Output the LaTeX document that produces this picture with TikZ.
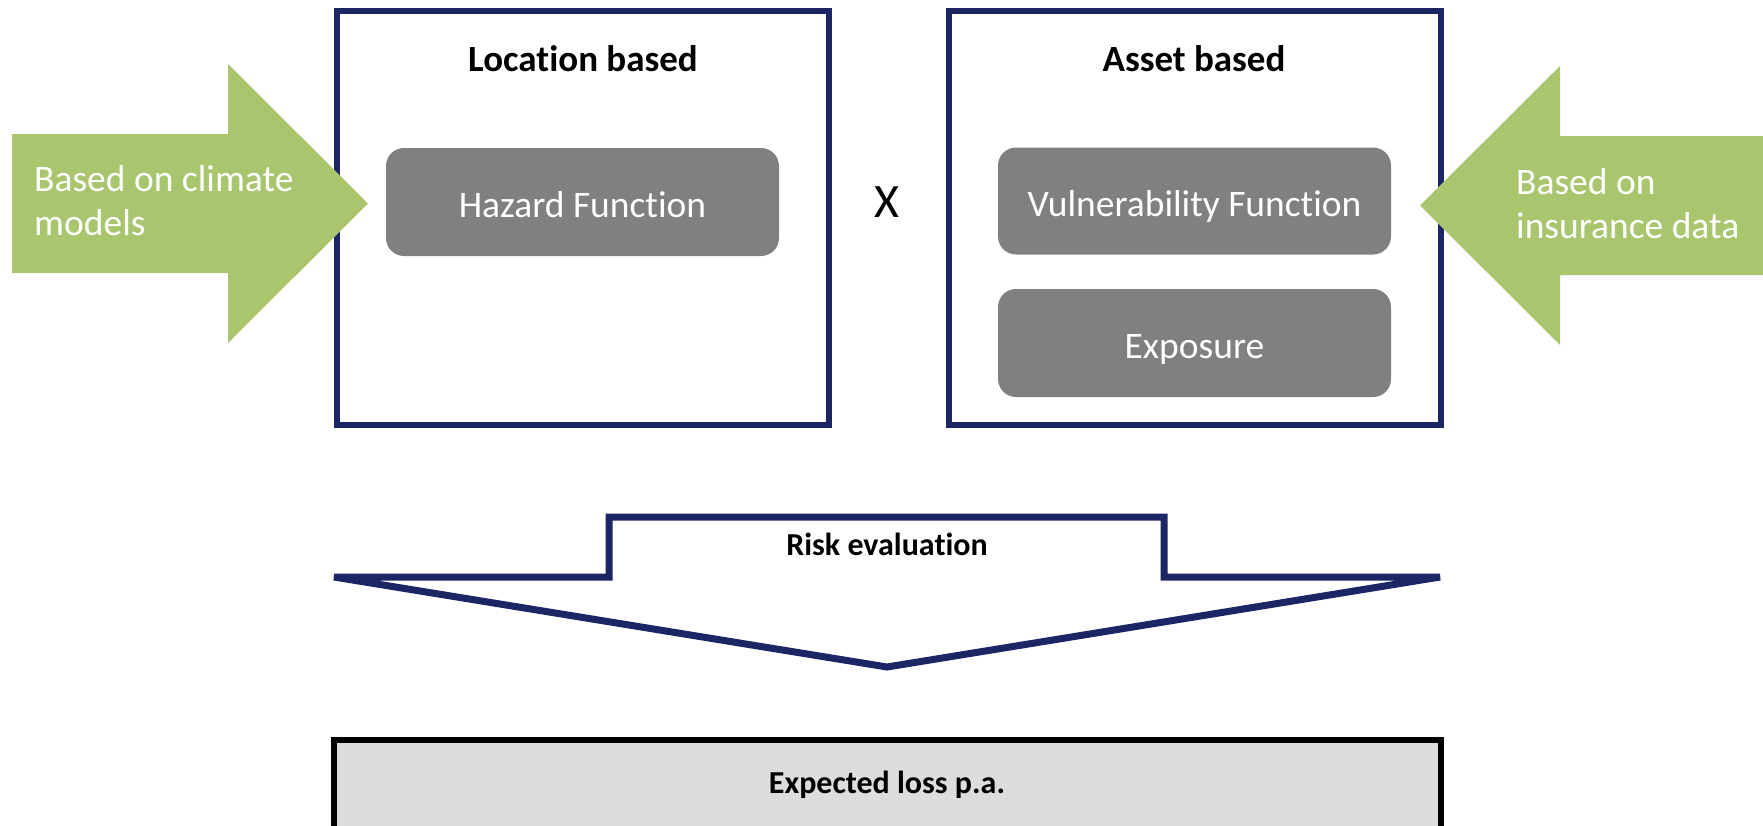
\documentclass[tikz,border=0pt]{standalone}
\usepackage{fontspec}
\setmainfont{Carlito}[Ligatures=NoCommon]
\definecolor{navy}{HTML}{1C2664}
\definecolor{leaf}{HTML}{A9C66F}
\definecolor{boxgray}{HTML}{808080}
\definecolor{lossgray}{HTML}{DDDDDD}
\tikzset{
  frame/.style={draw=navy, line width=6pt, minimum width=492pt, minimum height=414pt, inner sep=0pt},
  graybox/.style={fill=boxgray, rounded corners=18pt, minimum width=393pt, minimum height=107pt, inner sep=0pt,
     text=white, font=\fontsize{37.5}{44}\selectfont, text height=30pt, text depth=0pt},
  title/.style={font=\bfseries\fontsize{37}{44}\selectfont, anchor=base, inner sep=0pt},
  greenarrow/.style={fill=leaf, draw=none},
  greentext/.style={text=white, font=\fontsize{37.5}{44}\selectfont, anchor=base west, inner sep=0pt},
  riskarrow/.style={draw=navy, fill=white, line width=7pt},
  smalltitle/.style={font=\bfseries\fontsize{32}{38}\selectfont, anchor=base, inner sep=0pt},
  lossbox/.style={fill=lossgray, draw=black, line width=6pt, inner sep=0pt}
}
\begin{document}
\begin{tikzpicture}[x=1pt,y=-1pt]
\useasboundingbox (0,0) rectangle (1763,825);
\clip (0,0) rectangle (1763,825);
% frames
\node[frame] (locframe) at (583,218) {};
\node[frame] (assetframe) at (1195,218) {};
\node[title] (loctitle) at (583,71) {Location based};
\node[title] (assettitle) at (1194,71) {Asset based};
% green arrows (on top of the frames)
\draw[greenarrow] (12,134) -- (228,134) -- (228,64) -- (368,203.5) -- (228,343) -- (228,273) -- (12,273) -- cycle;
\draw[greenarrow] (1763,136) -- (1560,136) -- (1560,66) -- (1420,205.5) -- (1560,345) -- (1560,275) -- (1763,275) -- cycle;
\node[greentext] (lefttxt) at (34,191) {\begin{tabular}[t]{@{}l@{}}Based on climate\\models\end{tabular}};
\node[greentext] (righttxt) at (1516,194) {\begin{tabular}[t]{@{}l@{}}Based on\\insurance data\end{tabular}};
% gray boxes
\node[graybox, minimum height=108pt] (hazard) at (582.5,202) {Hazard Function};
\node[graybox] (vuln) at (1194.5,201) {Vulnerability Function};
\node[graybox, minimum height=108pt] (expo) at (1194.5,343) {Exposure};
\node[font=\fontsize{48}{56}\selectfont, inner sep=0pt] (times) at (887,202) {X};
% risk evaluation arrow
\draw[riskarrow] (334,577) -- (609,577) -- (609,517) -- (1164,517) -- (1164,577) -- (1440,577) -- (887,667) -- cycle;
\node[smalltitle] (risk) at (887,555) {Risk evaluation};
% expected loss
\node[lossbox, minimum width=1107pt, minimum height=100pt] (loss) at (887.5,790) {};
\node[smalltitle] (losstxt) at (887,793) {Expected loss p.a.};
\end{tikzpicture}
\end{document}
